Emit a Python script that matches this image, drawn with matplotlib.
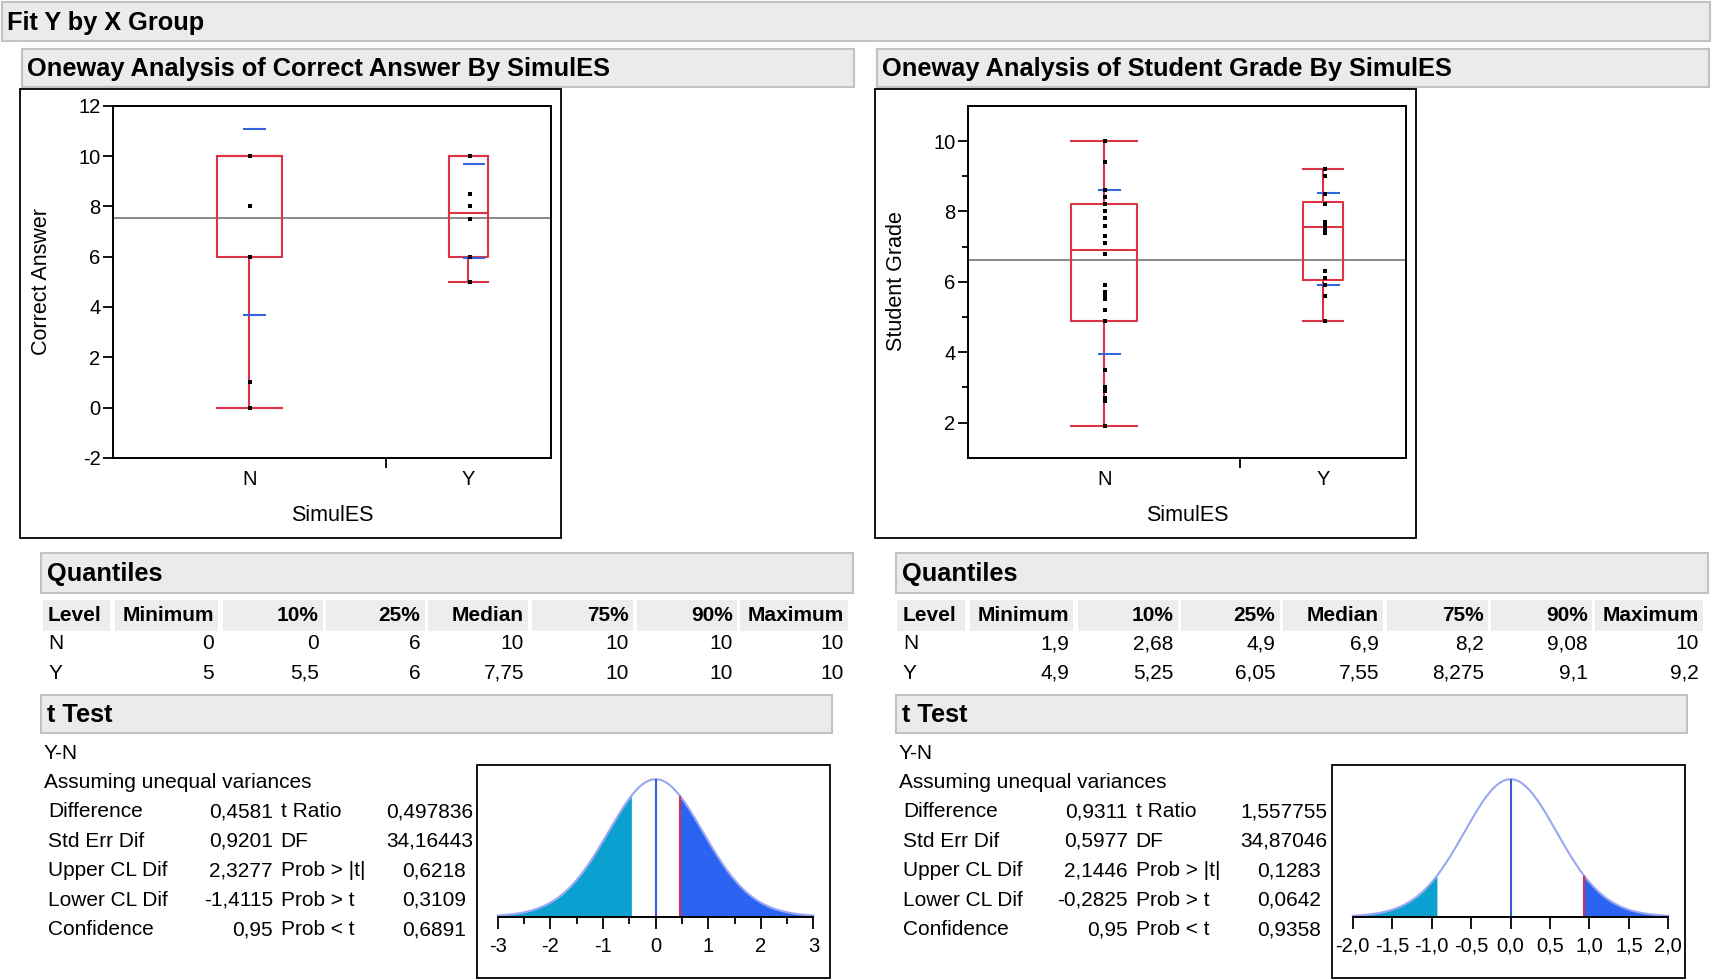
import numpy as np
import matplotlib
matplotlib.use('Agg')
import matplotlib.pyplot as plt
from matplotlib.patches import Rectangle
from matplotlib.ticker import MultipleLocator, FuncFormatter, FixedLocator

plt.rcParams['font.family'] = ['Liberation Sans', 'DejaVu Sans']
plt.rcParams['axes.unicode_minus'] = False

# values
groups = ['N', 'Y']
group_n = [23, 14]
quant_cols = ['Minimum', '10%', '25%', 'Median', '75%', '90%', 'Maximum']

ca_quant_n = [0, 0, 6, 10, 10, 10, 10]
ca_quant_y = [5, 5.5, 6, 7.75, 10, 10, 10]
ca_points_n = [10, 8, 6, 1, 0]
ca_points_y = [10, 8.5, 8, 7.5, 6, 5]
ca_mean = [7.37, 7.83]
ca_sd = [3.70, 1.87]
ca_grand_mean = 7.55
ca_stat_values = ['0,4581', '0,9201', '2,3277', '-1,4115', '0,95']
ca_test_values = ['0,497836', '34,16443', '0,6218', '0,3109', '0,6891']

sg_quant_n = [1.9, 2.68, 4.9, 6.9, 8.2, 9.08, 10]
sg_quant_y = [4.9, 5.25, 6.05, 7.55, 8.275, 9.1, 9.2]
sg_points_n = [10, 9.4, 8.6, 8.4, 8.2, 8.0, 7.8, 7.6, 7.3, 7.1, 6.8, 5.9,
               5.7, 5.6, 5.5, 5.2, 4.9, 3.5, 3.0, 2.9, 2.7, 2.6, 1.9]
sg_points_y = [9.2, 9.0, 8.5, 8.2, 7.7, 7.6, 7.6, 7.5, 7.4, 6.3, 6.1, 5.9, 5.6, 4.9]
sg_mean = [6.28, 7.21]
sg_sd = [2.33, 1.30]
sg_grand_mean = 6.62
sg_stat_values = ['0,9311', '0,5977', '2,1446', '-0,2825', '0,95']
sg_test_values = ['1,557755', '34,87046', '0,1283', '0,0642', '0,9358']

stat_labels = ['Difference', 'Std Err Dif', 'Upper CL Dif', 'Lower CL Dif', 'Confidence']
test_labels = ['t Ratio', 'DF', 'Prob > |t|', 'Prob > t', 'Prob < t']

RED = '#DD3347'
BLUE = '#3366DD'

# layout grid (reference pixels / 1.092)
W, H = 1568, 898

fig = plt.figure(figsize=(17.12, 9.80), dpi=100)
bg = fig.add_axes([0, 0, 1, 1])
bg.set_xlim(0, W)
bg.set_ylim(H, 0)
bg.axis('off')


def rect(x0, y0, x1, y1):
    return [x0 / W, 1 - y1 / H, (x1 - x0) / W, (y1 - y0) / H]


def to_num(s):
    return float(s.replace(',', '.'))


def fmt(v):
    return f'{v:g}'.replace('.', ',')


def bar(x0, y0, x1, y1, title, size=18.3):
    bg.add_patch(Rectangle((x0, y0), x1 - x0, y1 - y0, facecolor='#EBEBEB',
                           edgecolor='#C2C2C2', lw=1.5))
    bg.text(x0 + 5, (y0 + y1) / 2 + 1, title, fontsize=size, fontweight='bold',
            va='center', ha='left')


def box_plot(ax, q_n, q_y, pts_n, pts_y, mean, sd, grand, ylim, ystep, yminor):
    total = sum(group_n)
    centers = [group_n[0] / 2, group_n[0] + group_n[1] / 2]
    widths = [0.24 * n for n in group_n]
    stats = [dict(whislo=q[0], q1=q[2], med=q[3], q3=q[4], whishi=q[6], fliers=[])
             for q in (q_n, q_y)]
    lp = dict(color=RED, lw=1.5)
    ax.bxp(stats, positions=centers, widths=widths, capwidths=widths,
           showfliers=False, manage_ticks=False, boxprops=lp, medianprops=lp,
           whiskerprops=lp, capprops=lp)
    ax.axhline(grand, color='#808080', lw=1.3, zorder=1)
    for c, m, s in zip(centers, mean, sd):
        ax.hlines([m + s, m - s], c - 0.5, c + 1.4, color=BLUE, lw=1.5, zorder=4)
    for c, pts in zip(centers, (pts_n, pts_y)):
        ax.scatter(np.full(len(pts), c + 0.1), pts, marker='s', s=6,
                   color='black', linewidths=0, zorder=5)
    ax.set_xlim(0, total)
    ax.set_ylim(*ylim)
    ax.set_xticks(centers)
    ax.set_xticklabels(groups, fontsize=14.5)
    ax.xaxis.set_minor_locator(FixedLocator([group_n[0]]))
    ax.tick_params(axis='x', which='major', length=0, pad=9)
    ax.tick_params(axis='x', which='minor', length=7, width=1.3, direction='out')
    ax.yaxis.set_major_locator(MultipleLocator(ystep))
    if yminor:
        ax.yaxis.set_minor_locator(FixedLocator(yminor))
    ax.tick_params(axis='y', which='major', length=7, width=1.3, labelsize=14.5, pad=2)
    ax.tick_params(axis='y', which='minor', length=4, width=1.3)
    for sp in ax.spines.values():
        sp.set_linewidth(1.4)


def t_plot(ax, stat_values, test_values, rng, step, minor, dec):
    diff = to_num(stat_values[0])
    se = to_num(stat_values[1])
    df = to_num(test_values[1])
    x = np.linspace(-rng, rng, 800)
    y = (1 + (x / se) ** 2 / df) ** (-(df + 1) / 2)
    ax.fill_between(x, 0, y, where=x <= -abs(diff), color='#0AA0D0', lw=0)
    ax.fill_between(x, 0, y, where=x >= abs(diff), color='#2B64F2', lw=0)
    ax.plot(x, y, color='#9AA6F2', lw=1.5, clip_on=False)
    ax.vlines(0, 0, 1, color='#3A5CD8', lw=1.5)
    yd = (1 + (diff / se) ** 2 / df) ** (-(df + 1) / 2)
    ax.vlines(diff, 0, yd, color='#D2304A', lw=1.5)
    ax.set_xlim(-rng, rng)
    ax.set_ylim(0, 1)
    ax.patch.set_alpha(0)
    for k in ('top', 'left', 'right'):
        ax.spines[k].set_visible(False)
    ax.spines['bottom'].set_linewidth(1.4)
    ax.set_yticks([])
    ax.xaxis.set_major_locator(MultipleLocator(step))
    if minor:
        ax.xaxis.set_minor_locator(MultipleLocator(minor))
    ax.xaxis.set_major_formatter(FuncFormatter(lambda v, p: f'{v:.{dec}f}'.replace('.', ',')))
    ax.tick_params(axis='x', which='major', length=8.5, width=1.3, labelsize=14.5, pad=6)
    ax.tick_params(axis='x', which='minor', length=5, width=1.3)


def panel(dx, title, ylabel, q_n, q_y, pts_n, pts_y, mean, sd, grand,
          ylim, ystep, yminor, stat_values, test_values, rng, step, minor, dec):
    bar(20 + dx, 45, 782 + dx, 80, title)
    bg.add_patch(Rectangle((18 + dx, 82), 496, 411, fill=False, edgecolor='black', lw=1.3))
    ax = fig.add_axes(rect(103.5 + dx, 97, 505 + dx, 419.5))
    box_plot(ax, q_n, q_y, pts_n, pts_y, mean, sd, grand, ylim, ystep, yminor)
    bg.text(38 + dx, 258, ylabel, rotation=90, fontsize=15.5, ha='center', va='center')
    bg.text(304 + dx, 472, 'SimulES', fontsize=15.5, ha='center', va='center')

    # quantiles table
    bar(38 + dx, 507, 781 + dx, 543, 'Quantiles')
    cells = [(39, 101), (105, 200), (204, 296), (299, 389), (392, 484),
             (487, 580), (583, 675), (678, 777)]
    for i, (c0, c1) in enumerate(cells):
        bg.add_patch(Rectangle((c0 + dx, 550), c1 - c0, 28, facecolor='#EDEDED', lw=0))
        if i == 0:
            bg.text(c0 + 5 + dx, 564, 'Level', fontsize=15, fontweight='bold', va='center')
        else:
            bg.text(c1 - 4 + dx, 564, quant_cols[i - 1], fontsize=15,
                    fontweight='bold', va='center', ha='right')
    for yy, lev, q in zip([590, 617], groups, (q_n, q_y)):
        bg.text(cells[0][0] + 5 + dx, yy, lev, fontsize=15, va='center')
        for (c0, c1), v in zip(cells[1:], q):
            bg.text(c1 - 4 + dx, yy, fmt(v), fontsize=15, va='center', ha='right')

    # t test
    bar(38 + dx, 637, 762 + dx, 672, 't Test')
    bg.text(40 + dx, 690, 'Y-N', fontsize=15, va='center')
    bg.text(40 + dx, 717, 'Assuming unequal variances', fontsize=15, va='center')
    for i in range(5):
        yy = 744 + 27 * i
        bg.text(44 + dx, yy, stat_labels[i], fontsize=15, va='center')
        bg.text(250 + dx, yy, stat_values[i], fontsize=15, va='center', ha='right')
        bg.text(257 + dx, yy, test_labels[i], fontsize=15, va='center')
        xr = 433 if i < 2 else 427
        bg.text(xr + dx, yy, test_values[i], fontsize=15, va='center', ha='right')
    bg.add_patch(Rectangle((437 + dx, 701), 323, 195, fill=False, edgecolor='black', lw=1.3))
    tax = fig.add_axes(rect(456 + dx, 714, 745 + dx, 840))
    t_plot(tax, stat_values, test_values, rng, step, minor, dec)


bg.add_patch(Rectangle((2, 2), 1564, 36, facecolor='#EBEBEB', edgecolor='#C2C2C2', lw=1.5))
bg.text(6, 21, 'Fit Y by X Group', fontsize=18.3, fontweight='bold', va='center')

panel(0, 'Oneway Analysis of Correct Answer By SimulES', 'Correct Answer',
      ca_quant_n, ca_quant_y, ca_points_n, ca_points_y, ca_mean, ca_sd, ca_grand_mean,
      (-2, 12), 2, None, ca_stat_values, ca_test_values, 3, 1, 0.5, 0)
panel(783, 'Oneway Analysis of Student Grade By SimulES', 'Student Grade',
      sg_quant_n, sg_quant_y, sg_points_n, sg_points_y, sg_mean, sg_sd, sg_grand_mean,
      (1, 11), 2, [3, 5, 7, 9], sg_stat_values, sg_test_values, 2, 0.5, None, 1)

fig.savefig('out.png', dpi=100)
